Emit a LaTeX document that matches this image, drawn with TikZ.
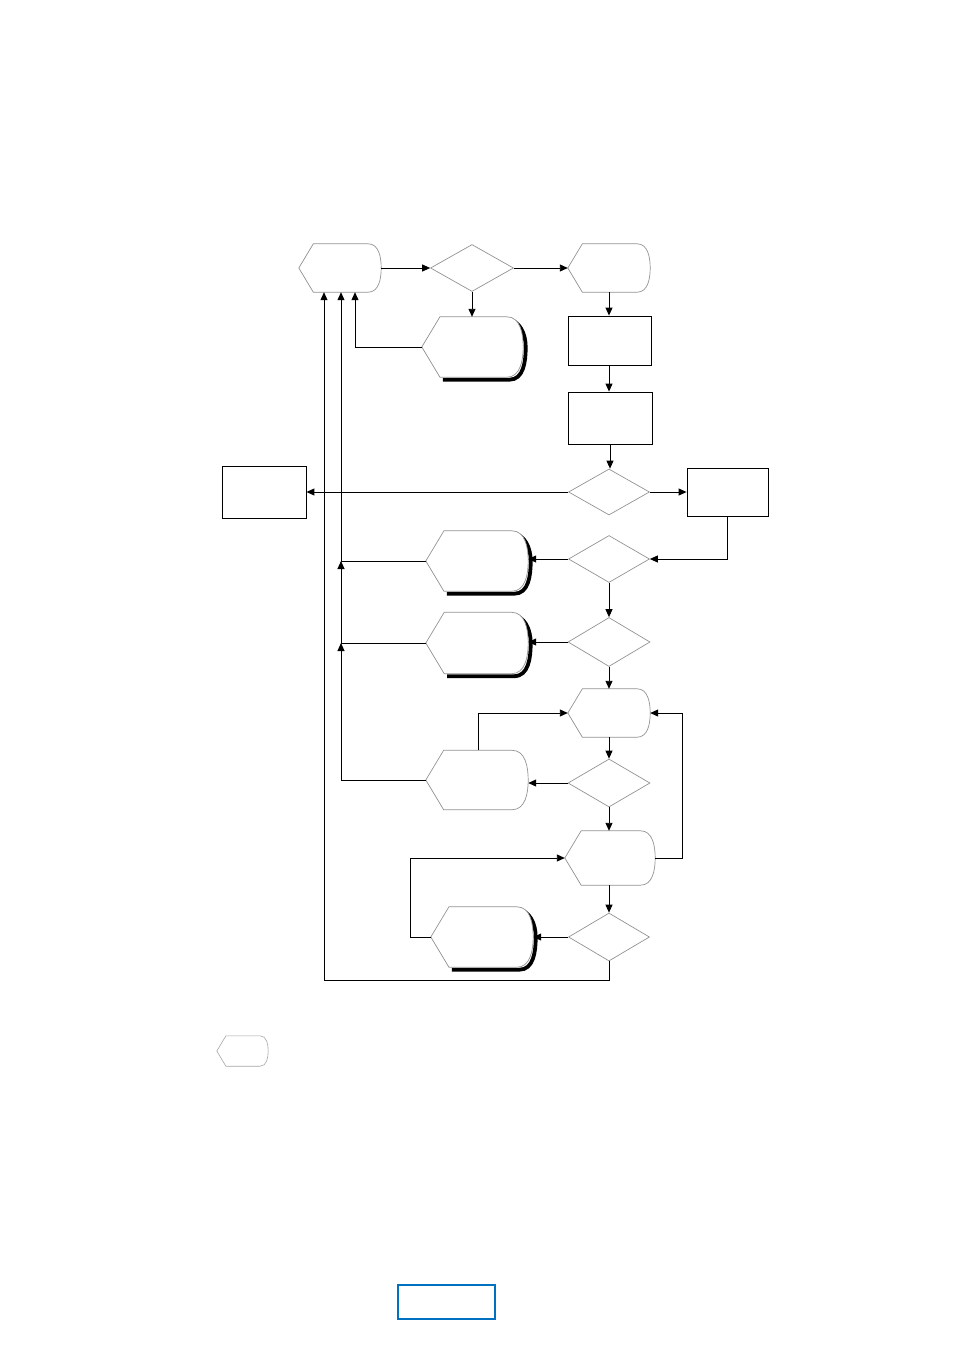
\documentclass[tikz,border=0pt]{standalone}
\usepackage{amsmath,amssymb}
\usetikzlibrary{arrows.meta, shapes.geometric, calc}

% display outline: pointed left side, rounded right side
\newcommand{\dispshape}[2][]{%
  \path[dispedge,#1] let \p1=(#2.north east), \p2=(#2.south west), \p3=(#2.east),
      \n1={0.3*(\y1-\y2)}, \n2={0.27*(\y1-\y2)} in
    (#2.west) -- ({\x2+\n1},\y1) -- ({\x1-\n2},\y1) to[out=0,in=90] (\x3,\y3)
    to[out=-90,in=0] ({\x1-\n2},\y2) -- ({\x2+\n1},\y2) -- cycle;}
% heavy shadow on bottom and right of a display
\newcommand{\dispshadow}[1]{%
  \draw[line width=3.8pt] let \p1=(#1.north east), \p2=(#1.south west), \p3=(#1.east),
      \n1={0.3*(\y1-\y2)}, \n2={0.27*(\y1-\y2)} in
    ({\x2+\n1+3pt},{\y2-2.5pt}) -- ({\x1-\n2+2.5pt},{\y2-2.5pt}) to[out=0,in=-90] ({\x3+2.5pt},\y3)
    to[out=90,in=0] ({\x1-\n2},{\y1-3pt});}

\begin{document}
\begin{tikzpicture}[x=1pt, y=-1pt,
    disp/.style={rectangle, inner sep=0pt, draw=none},
    dispedge/.style={draw=gray!85, fill=white, line width=0.7pt},
    dec/.style={diamond, inner sep=0pt, draw=gray!85, fill=white, line width=0.7pt},
    box/.style={rectangle, inner sep=0pt, draw=black, line width=0.85pt},
    arr/.style={-{Triangle[length=8pt,width=7pt]}, line width=0.9pt}]
  \useasboundingbox (0,0) rectangle (954,1351);
  % Top row
  \node[disp, minimum width=82, minimum height=48] (start) at (340,268) {};
  \node[dec, minimum width=83, minimum height=47] (ask) at (472,268) {};
  \node[disp, minimum width=82, minimum height=48] (load) at (609,268) {};
  \node[disp, minimum width=101, minimum height=60] (fail) at (472.5,347) {};
  % Main column
  \node[box, minimum width=83, minimum height=49] (prep) at (609.5,340.5) {};
  \node[box, minimum width=84, minimum height=52] (run) at (610,418) {};
  \node[dec, minimum width=81, minimum height=46] (split) at (609,492) {};
  \node[box, minimum width=84, minimum height=52] (exit) at (264,492) {};
  \node[box, minimum width=81, minimum height=48] (side) at (727.5,492) {};
  \node[dec, minimum width=81, minimum height=47] (testA) at (609,559) {};
  \node[disp, minimum width=102, minimum height=60] (warnA) at (477,561) {};
  \node[dec, minimum width=82, minimum height=49] (testB) at (609,642) {};
  \node[disp, minimum width=102, minimum height=61] (warnB) at (477,643) {};
  \node[disp, minimum width=82, minimum height=48] (loopin) at (609,713) {};
  \node[dec, minimum width=82, minimum height=48] (testC) at (609,783) {};
  \node[disp, minimum width=102, minimum height=59] (retry) at (477,780) {};
  \node[disp, minimum width=90, minimum height=54] (loopout) at (610,858) {};
  \node[dec, minimum width=81, minimum height=48] (testD) at (609,937) {};
  \node[disp, minimum width=102, minimum height=60] (warnC) at (482,937) {};
  % Legend
  \node[disp, minimum width=51, minimum height=30] (key) at (242.5,1051) {};
  \node[rectangle, inner sep=0pt, draw={rgb,255:red,0;green,112;blue,192}, line width=1.2pt,
    minimum width=97, minimum height=34] (page) at (446.5,1302) {};
  % Display outlines
  \dispshadow{fail}
  \dispshadow{warnA}
  \dispshadow{warnB}
  \dispshadow{warnC}
  \dispshape{start}
  \dispshape{load}
  \dispshape{fail}
  \dispshape{warnA}
  \dispshape{warnB}
  \dispshape{loopin}
  \dispshape{retry}
  \dispshape{loopout}
  \dispshape{warnC}
  \dispshape[draw=gray!70, line width=0.6pt]{key}
  % Return columns
  \coordinate (colA) at ([xshift=-16]start.south);
  \coordinate (colB) at ([xshift=1]start.south);
  \coordinate (colC) at ([xshift=15]start.south);
  % Connectors
  \draw[arr] (start) -- (ask);
  \draw[arr] (ask) -- (load);
  \draw[arr] (ask.south) -- (ask.south |- fail.north);
  \draw[arr] (fail.west) -| (colC);
  \draw[arr] (load.south) -- (load.south |- prep.north);
  \draw[arr] (load.south |- prep.south) -- (load.south |- run.north);
  \draw[arr] (run.south) -- (run.south |- split.north);
  \draw[arr] (split) -- (exit);
  \draw[arr] (split) -- (side);
  \draw[arr] (side.south) |- (testA.east);
  \draw[arr] (testA.west) -- (testA.west -| warnA.east);
  \draw[arr] (testA) -- (testB);
  \draw[arr] (testB.west) -- (testB.west -| warnB.east);
  \draw[arr] (testB) -- (loopin);
  \draw[arr] (loopin) -- (testC);
  \draw[arr] (testC.west) -- (testC.west -| retry.east);
  \draw[arr] (testC) -- (loopout.north -| testC);
  \draw[arr] (loopout.south -| testD) -- (testD);
  \draw[arr] (testD) -- (warnC);
  \draw[arr] (retry.west) -| (colB |- warnB.west);
  \draw[arr] (warnB.west) -| (colB |- warnA.west);
  \draw[arr] (warnA.west) -| (colB);
  \draw[arr] ([xshift=1]retry.north) |- (loopin.west);
  \draw[arr] (loopout.east) -- ++(27,0) |- (loopin.east);
  \draw[arr] (warnC.west) -- ++(-20,0) |- (loopout.west);
  \draw[arr] (testD.south) -- ++(0,19) -| (colA);
\end{tikzpicture}
\end{document}
